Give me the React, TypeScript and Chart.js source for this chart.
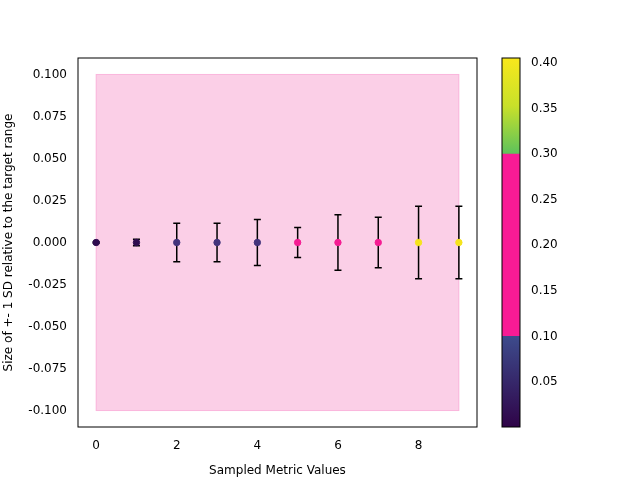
import { useEffect, useRef } from "react"
import { Chart, registerables } from "chart.js"

Chart.register(...registerables)

const xValues = [0, 1, 2, 3, 4, 5, 6, 7, 8, 9]
const yValues = [0, 0, 0, 0, 0, 0, 0, 0, 0, 0]
const errors = [0.0005, 0.002, 0.0115, 0.0115, 0.0137, 0.009, 0.0165, 0.015, 0.0215, 0.0215]
const pointColors = ["#2f0c4f", "#2f0c4f", "#44347c", "#44347c", "#44347c", "#f51c93", "#f51c93", "#f51c93", "#f5e41c", "#f5e41c"]
const xTicks = [0, 2, 4, 6, 8]
const yTicks = [-0.1, -0.075, -0.05, -0.025, 0, 0.025, 0.05, 0.075, 0.1]
const bandX = [0, 9]
const bandY = [-0.1, 0.1]
const cbSegments: [number, number][] = [[0.0006, 0.1], [0.1, 0.3], [0.3, 0.4055]]
const cbTicks = [0.05, 0.1, 0.15, 0.2, 0.25, 0.3, 0.35, 0.4]

const font = { family: "DejaVu Sans", size: 12 }

export default function App() {
  const mainRef = useRef<HTMLCanvasElement>(null)
  const cbRef = useRef<HTMLCanvasElement>(null)

  useEffect(() => {
    if (!mainRef.current || !cbRef.current) return
    Chart.defaults.color = "#000"

    // bande rose + barres d'erreur
    const extras = {
      id: "extras",
      beforeDatasetsDraw(chart: any) {
        const { ctx, scales } = chart
        const x0 = scales.x.getPixelForValue(bandX[0])
        const x1 = scales.x.getPixelForValue(bandX[1])
        const y0 = scales.y.getPixelForValue(bandY[1])
        const y1 = scales.y.getPixelForValue(bandY[0])
        ctx.save()
        ctx.fillStyle = "rgba(248,160,208,0.5)"
        ctx.fillRect(x0, y0, x1 - x0, y1 - y0)
        ctx.strokeStyle = "rgba(248,150,205,0.6)"
        ctx.lineWidth = 1
        ctx.strokeRect(x0, y0, x1 - x0, y1 - y0)
        ctx.strokeStyle = "#000"
        ctx.lineWidth = 1.5
        xValues.forEach((x, i) => {
          const px = scales.x.getPixelForValue(x)
          const top = scales.y.getPixelForValue(yValues[i] + errors[i])
          const bot = scales.y.getPixelForValue(yValues[i] - errors[i])
          ctx.beginPath()
          ctx.moveTo(px, top); ctx.lineTo(px, bot)
          ctx.moveTo(px - 3.5, top); ctx.lineTo(px + 3.5, top)
          ctx.moveTo(px - 3.5, bot); ctx.lineTo(px + 3.5, bot)
          ctx.stroke()
        })
        ctx.restore()
      },
      afterDraw(chart: any) {
        const { ctx, chartArea: a } = chart
        ctx.save()
        ctx.strokeStyle = "#000"
        ctx.lineWidth = 1
        ctx.strokeRect(a.left, a.top, a.right - a.left, a.bottom - a.top)
        ctx.restore()
      },
    }

    const main = new Chart(mainRef.current, {
      type: "scatter",
      data: {
        datasets: [{
          data: xValues.map((x, i) => ({ x, y: yValues[i] })),
          pointBackgroundColor: pointColors,
          pointBorderColor: pointColors,
          pointRadius: 3.2,
        }],
      },
      options: {
        animation: false,
        responsive: false,
        layout: { padding: { top: 58, right: 163, left: 0, bottom: 0 } },
        plugins: { legend: { display: false }, tooltip: { enabled: false } },
        scales: {
          x: {
            min: -0.45, max: 9.45,
            afterFit: (s: any) => { s.height = 53 },
            afterBuildTicks: (s: any) => { s.ticks = xTicks.map((v) => ({ value: v })) },
            grid: { display: false, drawTicks: true },
            border: { display: false },
            ticks: { font, padding: 4 },
            title: { display: true, text: "Sampled Metric Values", font, padding: 2 },
          },
          y: {
            min: -0.1098, max: 0.1098,
            afterFit: (s: any) => { s.width = 78 },
            afterBuildTicks: (s: any) => { s.ticks = yTicks.map((v) => ({ value: v })) },
            grid: { display: false },
            border: { display: false },
            ticks: { font, callback: (v: any) => Number(v).toFixed(3) },
            title: { display: true, text: "Size of +- 1 SD relative to the target range", font, padding: 2 },
          },
        },
      },
      plugins: [extras],
    })

    const gradients = [
      (c: any) => {
        const a = c.chart.chartArea
        if (!a) return "#2f0c4f"
        const y = c.chart.scales.y
        const g = c.chart.ctx.createLinearGradient(0, y.getPixelForValue(0.0006), 0, y.getPixelForValue(0.1))
        g.addColorStop(0, "#2f0448"); g.addColorStop(1, "#3d4b8c")
        return g
      },
      () => "#f81b95",
      (c: any) => {
        const a = c.chart.chartArea
        if (!a) return "#f5e41c"
        const y = c.chart.scales.y
        const g = c.chart.ctx.createLinearGradient(0, y.getPixelForValue(0.3), 0, y.getPixelForValue(0.4055))
        g.addColorStop(0, "#5cc25c"); g.addColorStop(0.5, "#c8e02a"); g.addColorStop(1, "#f8e81c")
        return g
      },
    ]

    const cbBorder = {
      id: "cbBorder",
      afterDraw(chart: any) {
        const { ctx, chartArea: a } = chart
        ctx.save()
        ctx.strokeStyle = "#000"
        ctx.lineWidth = 1
        ctx.strokeRect(a.left, a.top, a.right - a.left, a.bottom - a.top)
        ctx.restore()
      },
    }

    const cb = new Chart(cbRef.current, {
      type: "bar",
      data: {
        labels: ["cb"],
        datasets: cbSegments.map((seg, i) => ({
          data: [seg],
          backgroundColor: gradients[i],
          barPercentage: 1,
          categoryPercentage: 1,
          borderWidth: 0,
        })),
      },
      options: {
        animation: false,
        responsive: false,
        layout: { padding: { left: 502, top: 58, bottom: 53, right: 0 } },
        plugins: { legend: { display: false }, tooltip: { enabled: false } },
        scales: {
          x: { stacked: true, display: false },
          y: {
            position: "right",
            min: 0.0006, max: 0.4055,
            afterFit: (s: any) => { s.width = 120 },
            afterBuildTicks: (s: any) => { s.ticks = cbTicks.map((v) => ({ value: v })) },
            grid: { display: false },
            border: { display: false },
            ticks: { font, callback: (v: any) => Number(v).toFixed(2) },
          },
        },
      },
      plugins: [cbBorder],
    })

    return () => {
      main.destroy()
      cb.destroy()
    }
  }, [])

  return (
    <div style={{ position: "absolute", left: 0, top: 0, width: 640, height: 480, background: "#fff" }}>
      <canvas ref={mainRef} width={640} height={480} style={{ position: "absolute", left: 0, top: 0 }} />
      <canvas ref={cbRef} width={640} height={480} style={{ position: "absolute", left: 0, top: 0, pointerEvents: "none" }} />
    </div>
  )
}
